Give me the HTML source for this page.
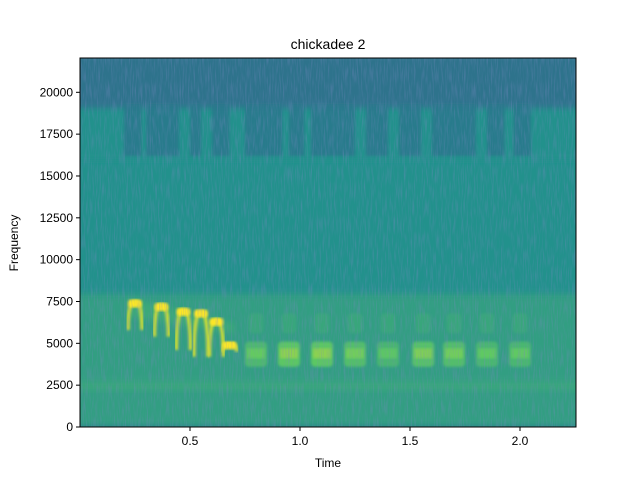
<!DOCTYPE html>
<html><head><meta charset="utf-8"><style>
body{margin:0;background:#fff;font-family:"Liberation Sans","DejaVu Sans",sans-serif}
svg text{font-family:"Liberation Sans","DejaVu Sans",sans-serif;fill:#000}
</style></head><body>
<svg id="chart" width="640" height="480" viewBox="0 0 640 480" xmlns="http://www.w3.org/2000/svg">
<defs>
<clipPath id="clip"><rect x="80" y="58" width="496" height="369"/></clipPath>
<filter id="noise" x="0" y="0" width="100%" height="100%" filterUnits="objectBoundingBox">
<feTurbulence type="fractalNoise" baseFrequency="0.7 0.06" numOctaves="2" seed="3" result="t"/>
<feColorMatrix in="t" type="matrix" values="0 0 0 0 0.2  0 0 0 0 0.25  0 0 0 0 0.55  0 0 0 2.2 -0.95"/>
</filter>
<filter id="blur"><feGaussianBlur stdDeviation="1.2"/></filter>
<filter id="blur3"><feGaussianBlur stdDeviation="3"/></filter>
</defs>
<g id="plot" clip-path="url(#clip)"></g>
<rect x="80" y="58" width="496" height="369" fill="#000" filter="url(#noise)" opacity="0.38"/>
<rect x="80" y="58" width="496" height="369" fill="none" stroke="#000" stroke-width="1"/>
<g id="axes"></g>
<text x="328" y="49" font-size="14" text-anchor="middle">chickadee 2</text>
<text x="328" y="467" font-size="12" text-anchor="middle">Time</text>
<text x="18" y="243" font-size="12" text-anchor="middle" transform="rotate(-90 18 243)">Frequency</text>
</svg>
<script>
const xTicks=[0.5,1.0,1.5,2.0];
const xTickLabels=["0.5","1.0","1.5","2.0"];
const yTicks=[0,2500,5000,7500,10000,12500,15000,17500,20000];
const bandLo=[0,300,2400,3000,8200,16200,19300];
const bandHi=[300,2400,3000,8200,16200,19300,22050];
const bandLevel=[0.44,0.56,0.59,0.56,0.5,0.5,0.38];
const patchStart=[0.2,0.3,0.5,0.6,0.75,0.95,1.05,1.3,1.45,1.6,1.85,1.97];
const patchEnd=[0.28,0.45,0.55,0.68,0.92,1.02,1.25,1.4,1.55,1.8,1.93,2.05];
const archTimes=[0.25,0.37,0.47,0.55,0.62,0.68];
const archTops=[7500,7300,7000,6900,6400,5000];
const archBottoms=[5800,5400,4600,4200,4200,4500];
const blobTimes=[0.8,0.95,1.1,1.25,1.4,1.56,1.7,1.85,2.0];
const blobLevel=[0.68,0.74,0.74,0.7,0.66,0.72,0.7,0.67,0.67];
const X0=80,X1=576,Y0=427,Y1=58,TMAX=2.2545,FMAX=22050;
const sx=t=>X0+t/TMAX*(X1-X0);
const sy=f=>Y0-f/FMAX*(Y0-Y1);
const vir=[[68,1,84],[59,82,139],[33,145,140],[94,201,98],[253,231,37]];
function cmap(v){v=Math.max(0,Math.min(1,v))*4;const i=Math.min(3,Math.floor(v)),f=v-i;const a=vir[i],b=vir[i+1];return `rgb(${a.map((c,k)=>Math.round(c+(b[k]-c)*f)).join(',')})`;}
const NS='http://www.w3.org/2000/svg';
const plot=document.getElementById('plot'),axes=document.getElementById('axes');
function mk(tag,attrs,parent){const e=document.createElementNS(NS,tag);for(const k in attrs)e.setAttribute(k,attrs[k]);parent.appendChild(e);return e;}
bandLo.forEach((lo,i)=>{
 const r=mk('rect',{x:X0-5,y:sy(bandHi[i])-4,width:X1-X0+10,height:sy(lo)-sy(bandHi[i])+8,fill:cmap(bandLevel[i]),filter:'url(#blur3)'},plot);
 
 
});
patchStart.forEach((s,i)=>{
 const r=mk('rect',{x:sx(s),y:sy(19300),width:sx(patchEnd[i])-sx(s),height:sy(16200)-sy(19300),fill:cmap(0.4),opacity:0.85,filter:'url(#blur)'},plot);
 
 
});
{const p=mk('path',{d:`M${sx(0.22)},${sy(7700)} L${sx(0.7)},${sy(6200)} L${sx(0.7)},${sy(5600)} L${sx(0.22)},${sy(6600)}Z`,fill:cmap(0.64),opacity:0.6,filter:'url(#blur3)'},plot);
 
 }
archTimes.forEach((t,i)=>{
 const cx=sx(t),top=sy(archTops[i]),bot=sy(archBottoms[i]),w=7;
 const p=mk('path',{d:`M${cx-w},${bot} Q${cx-w},${top} ${cx},${top} Q${cx+w},${top} ${cx+w},${bot}`,fill:'none',stroke:cmap(0.93),'stroke-width':3.5,filter:'url(#blur)'},plot);
 
 
 const c=mk('rect',{x:cx-w,y:top-2,width:2*w,height:8,rx:3,fill:cmap(1),filter:'url(#blur)'},plot);
 
 
});
blobTimes.forEach((t,i)=>{
 const cx=sx(t),w=sx(0.1)-sx(0);
 const r=mk('rect',{x:cx-w/2,y:sy(5100),width:w,height:sy(3600)-sy(5100),rx:4,fill:cmap(blobLevel[i]),filter:'url(#blur)'},plot);
 
 
 const b=mk('rect',{x:cx-w/2+2,y:sy(4700),width:w-4,height:sy(4100)-sy(4700),fill:cmap(blobLevel[i]+0.08),filter:'url(#blur)'},plot);
 
 
 const h=mk('rect',{x:cx-w/3,y:sy(6800),width:w*2/3,height:sy(5600)-sy(6800),rx:4,fill:cmap(0.62),opacity:0.6,filter:'url(#blur)'},plot);
 
 
});
xTicks.forEach((t,i)=>{
 const l=mk('line',{x1:sx(t),x2:sx(t),y1:Y0,y2:Y0+4,stroke:'#000'},axes);
 
 
 const tx=mk('text',{x:sx(t),y:Y0+18,'font-size':12,'text-anchor':'middle'},axes);
 tx.textContent=xTickLabels[i];
 
 
});
yTicks.forEach(f=>{
 const l=mk('line',{x1:X0-4,x2:X0,y1:sy(f),y2:sy(f),stroke:'#000'},axes);
 
 
 const tx=mk('text',{x:X0-7,y:sy(f)+4,'font-size':12,'text-anchor':'end'},axes);
 tx.textContent=String(f);
 
 
});
</script>
</body></html>
